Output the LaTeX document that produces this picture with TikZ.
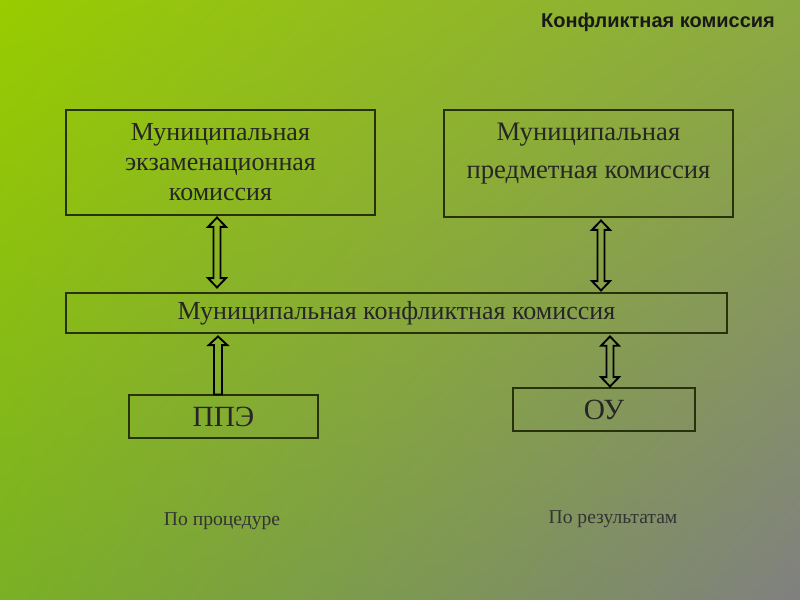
\documentclass[tikz,border=0pt]{standalone}
\usepackage{fontspec}
\setmainfont{Liberation Serif}
\newfontfamily\titlefont{Liberation Sans}
\usepackage{tikz}
\usetikzlibrary{positioning,calc,shadings}
\definecolor{bgtl}{RGB}{153,204,0}
\definecolor{bgtr}{RGB}{140,170,66}
\definecolor{bgbl}{RGB}{122,176,36}
\definecolor{bgbr}{RGB}{128,128,128}
\definecolor{boxline}{RGB}{40,50,10}
\tikzset{
  pxsize/.style 2 args={minimum width=#1*0.75pt, minimum height=#2*0.75pt},
  kbox/.style={draw=boxline, line width=0.8pt, align=center, inner sep=0pt,
    text=black!85},
  boxfont/.style={font=\fontsize{19.5}{22.5}\selectfont},
  bigfont/.style={font=\fontsize{22}{26}\selectfont},
  notefont/.style={font=\fontsize{14.7}{17}\selectfont, text=black!80},
  blockarrow/.style={draw=black, line width=1.4pt, line join=miter},
}
% hollow block arrows, tips given by two named coordinates
\newcommand{\dblarrow}[2]{%
  \draw[blockarrow] let \p1=(#1), \p2=(#2) in
    (\x1,\y1) -- (\x1+6.75pt,\y1-7pt) -- (\x1+2.6pt,\y1-7pt) -- (\x1+2.6pt,\y2+7pt)
    -- (\x1+6.75pt,\y2+7pt) -- (\x1,\y2) -- (\x1-6.75pt,\y2+7pt) -- (\x1-2.6pt,\y2+7pt)
    -- (\x1-2.6pt,\y1-7pt) -- (\x1-6.75pt,\y1-7pt) -- cycle;}
\newcommand{\uparrowbox}[2]{%
  \draw[blockarrow] let \p1=(#1), \p2=(#2) in
    (\x1,\y1) -- (\x1+7pt,\y1-6.5pt) -- (\x1+3pt,\y1-6.5pt) -- (\x1+3pt,\y2)
    -- (\x1-3pt,\y2) -- (\x1-3pt,\y1-6.5pt) -- (\x1-7pt,\y1-6.5pt) -- cycle;}
\begin{document}
\begin{tikzpicture}[x=0.75pt, y=-0.75pt]
  % background
  \shade[upper left=bgtl, upper right=bgtr, lower left=bgbl, lower right=bgbr]
    (0,0) rectangle (800,600);
  \useasboundingbox (0,0) rectangle (800,600);

  % title
  \node[font=\titlefont\bfseries\fontsize{15}{18}\selectfont, text=black!90] (title) at (658,22) {Конфликтная комиссия};

  % boxes
  \node[kbox, boxfont, pxsize={309}{105}] (mec) at (220.5,162.5)
    {Муниципальная\\экзаменационная\\комиссия};
  \node[kbox, pxsize={289}{107}] (mpk) at (588.5,163.5) {};
  \node[align=center, text=black!85, font=\fontsize{20}{29}\selectfont] (mpktext)
    at ($(mpk.center)+(0,-10)$) {Муниципальная\\предметная комиссия};
  \node[kbox, boxfont, pxsize={661}{40}] (mkk) at (396.5,313)
    {Муниципальная конфликтная комиссия};
  \node[kbox, bigfont, pxsize={189}{43}] (ppe) at (223.5,416.5) {ППЭ};
  \node[kbox, bigfont, pxsize={182}{43}] (ou) at (604,409.5) {ОУ};

  % notes
  \node[notefont] (proc) at (222,521) {По процедуре};
  \node[notefont] (res) at (613,519) {По результатам};

  % arrow ends
  \coordinate (a1t) at ($(mec.south)+(-3.5,2)$);
  \coordinate (a1b) at ($(mkk.north)+(-3.5,-5)$);
  \coordinate (a2t) at ($(mpk.south)+(12.5,3)$);
  \coordinate (a2b) at ($(mkk.north)+(204.5,-2)$);
  \coordinate (a3t) at ($(ppe.north)+(-5.5,-58)$);
  \coordinate (a3b) at (ppe.north -| a3t);
  \coordinate (a4t) at ($(ou.north)+(6,-51)$);
  \coordinate (a4b) at ($(ou.north)+(6,-1)$);

  % arrows
  \dblarrow{a1t}{a1b}
  \dblarrow{a2t}{a2b}
  \uparrowbox{a3t}{a3b}
  \dblarrow{a4t}{a4b}
\end{tikzpicture}
\end{document}
